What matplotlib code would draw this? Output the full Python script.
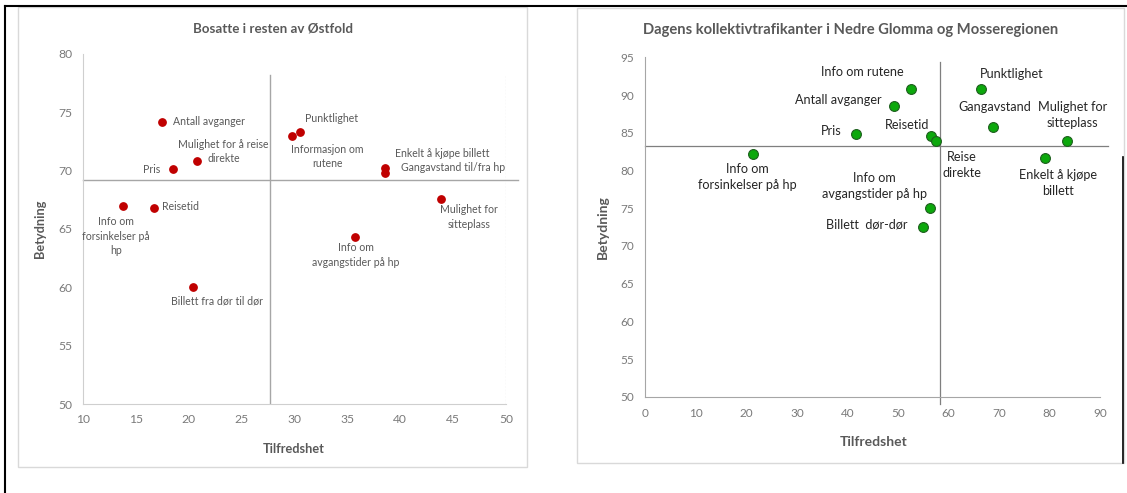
import matplotlib
matplotlib.use("Agg")
import matplotlib.pyplot as plt
from matplotlib.lines import Line2D
from matplotlib.patches import Rectangle

plt.rcParams['font.family'] = ['Lato', 'DejaVu Sans']

# --- Bosatte i resten av Østfold ---
east_names = ["Antall avganger", "Mulighet for å reise\ndirekte", "Pris",
              "Info om\nforsinkelser på\nhp", "Reisetid", "Billett fra dør til dør",
              "Informasjon om\nrutene", "Punktlighet", "Enkelt å kjøpe billett",
              "Gangavstand til/fra hp", "Mulighet for\nsitteplass",
              "Info om\navgangstider på hp"]
east_tilfredshet = [17.5, 20.8, 18.5, 13.75, 16.7, 20.4, 29.8, 30.5, 38.6, 38.6, 43.85, 35.7]
east_betydning = [74.2, 70.8, 70.1, 67.0, 66.8, 60.0, 73.0, 73.3, 70.2, 69.8, 67.6, 64.3]
east_mean_x = 27.7
east_mean_y = 69.2

# --- Dagens kollektivtrafikanter i Nedre Glomma og Mosseregionen ---
ng_names = ["Info om rutene", "Antall avganger", "Pris", "Reisetid", "Reise\ndirekte",
            "Info om\nforsinkelser på hp", "Info om\navgangstider på hp",
            "Billett  dør-dør", "Punktlighet", "Gangavstand",
            "Mulighet for\nsitteplass", "Enkelt å kjøpe\nbillett"]
ng_tilfredshet = [52.6, 49.2, 41.7, 56.5, 57.5, 21.3, 56.3, 54.9, 66.4, 68.8, 83.4, 79.2]
ng_betydning = [90.8, 88.6, 84.8, 84.6, 83.9, 82.2, 75.0, 72.5, 90.8, 85.8, 83.9, 81.7]
ng_mean_x = 58.4
ng_mean_y = 83.2

# label placement: (dx, dy) in points from the dot, plus horizontal alignment
east_offsets = [(8, 0, 'left'), (19, 7, 'center'), (-9, 0, 'right'), (-5, -22, 'center'),
                (6, 1, 'left'), (17, -10, 'center'), (25, -15, 'center'), (23, 10, 'center'),
                (7, 11, 'left'), (11, 4, 'left'), (20, -13, 'center'), (1, -13, 'center')]
ng_offsets = [(-35, 12), (-40, 4), (-18, 2), (-17, 8), (19, -17), (-4, -17),
              (-40, 16), (-40, 2), (22, 11), (1, 14), (4, 19), (9, -18)]

GREY_TXT = '#595959'
TICK_TXT = '#7a7a7a'

fig = plt.figure(figsize=(11.27, 4.93), dpi=100)

# chart frames and the black page edges
fig.patches.append(Rectangle((0.0159, 0.0527), 0.452, 0.933, transform=fig.transFigure,
                             fill=False, edgecolor='#d9d9d9', linewidth=1))
fig.patches.append(Rectangle((0.512, 0.061), 0.485, 0.923, transform=fig.transFigure,
                             fill=False, edgecolor='#d9d9d9', linewidth=1))
fig.lines.append(Line2D([0.0044, 1.0], [0.988, 0.988], transform=fig.transFigure,
                        color='black', linewidth=1.5))
fig.lines.append(Line2D([0.0044, 0.0044], [0.0, 0.988], transform=fig.transFigure,
                        color='black', linewidth=1.5))
fig.lines.append(Line2D([0.9965, 0.9965], [0.061, 0.682], transform=fig.transFigure,
                        color='black', linewidth=1.2))

# left chart
ax1 = fig.add_axes([0.0736, 0.1805, 0.3754, 0.710])
ax1.set_xlim(10, 50)
ax1.set_ylim(50, 80)
ax1.set_xticks(range(10, 51, 5))
ax1.set_yticks(range(50, 81, 5))
for s in ['top', 'right']:
    ax1.spines[s].set_visible(False)
for s in ['left', 'bottom']:
    ax1.spines[s].set_color('#cfcfcf')
ax1.tick_params(length=0, labelsize=8.7, labelcolor=TICK_TXT, pad=7.5)
ax1.plot([east_mean_x, east_mean_x], [50, 78.2], color='#a6a6a6', lw=1)
ax1.plot([10, 51.1], [east_mean_y, east_mean_y], color='#a6a6a6', lw=1, clip_on=False)
ax1.plot([50, 50], [50, 78.2], color='#a6a6a6', lw=0.8, ls=(0, (1.5, 1.5)))
ax1.scatter(east_tilfredshet, east_betydning, s=28, color='#c00000', zorder=3)
for name, x, y, (dx, dy, ha) in zip(east_names, east_tilfredshet, east_betydning, east_offsets):
    ax1.annotate(name, (x, y), xytext=(dx, dy), textcoords='offset points',
                 ha=ha, va='center', multialignment='center', fontsize=7.6,
                 color=GREY_TXT, linespacing=1.4)
ax1.text(0.449, 1.074, "Bosatte i resten av Østfold", transform=ax1.transAxes,
         ha='center', va='center', fontsize=9.6, fontweight='bold', color=GREY_TXT)
ax1.set_xlabel("Tilfredshet", fontsize=9.2, fontweight='bold', color=GREY_TXT)
ax1.set_ylabel("Betydning", fontsize=9.2, fontweight='bold', color=GREY_TXT)
ax1.xaxis.set_label_coords(0.498, -0.111)
ax1.yaxis.set_label_coords(-0.088, 0.5)

# right chart
ax2 = fig.add_axes([0.5726, 0.1953, 0.4035, 0.6885])
ax2.set_xlim(0, 90)
ax2.set_ylim(50, 95)
ax2.set_xticks(range(0, 91, 10))
ax2.set_yticks(range(50, 96, 5))
for s in ['top', 'right']:
    ax2.spines[s].set_visible(False)
for s in ['left', 'bottom']:
    ax2.spines[s].set_color('#a6a6a6')
ax2.tick_params(length=0, labelsize=8.5, labelcolor=TICK_TXT, pad=8)
ax2.plot([ng_mean_x, ng_mean_x], [49.1, 94.4], color='#7f7f7f', lw=0.9, clip_on=False)
ax2.plot([0, 91.6], [ng_mean_y, ng_mean_y], color='#7f7f7f', lw=0.9, clip_on=False)
ax2.scatter(ng_tilfredshet, ng_betydning, s=50, color='#0ca80c', edgecolor='#1f5f1f',
            linewidth=0.8, zorder=3)
for name, x, y, (dx, dy) in zip(ng_names, ng_tilfredshet, ng_betydning, ng_offsets):
    ax2.annotate(name, (x, y), xytext=(dx, dy), textcoords='offset points',
                 ha='center', va='center', multialignment='center', fontsize=9.1,
                 color='#262626', linespacing=1.4)
ax2.text(0.4515, 1.080, "Dagens kollektivtrafikanter i Nedre Glomma og Mosseregionen",
         transform=ax2.transAxes, ha='center', va='center', fontsize=10.6,
         fontweight='bold', color=GREY_TXT)
ax2.set_xlabel("Tilfredshet", fontsize=10, fontweight='bold', color=GREY_TXT)
ax2.set_ylabel("Betydning", fontsize=10, fontweight='bold', color=GREY_TXT)
ax2.xaxis.set_label_coords(0.501, -0.116)
ax2.yaxis.set_label_coords(-0.081, 0.5)

fig.savefig("out.png", dpi=100)
